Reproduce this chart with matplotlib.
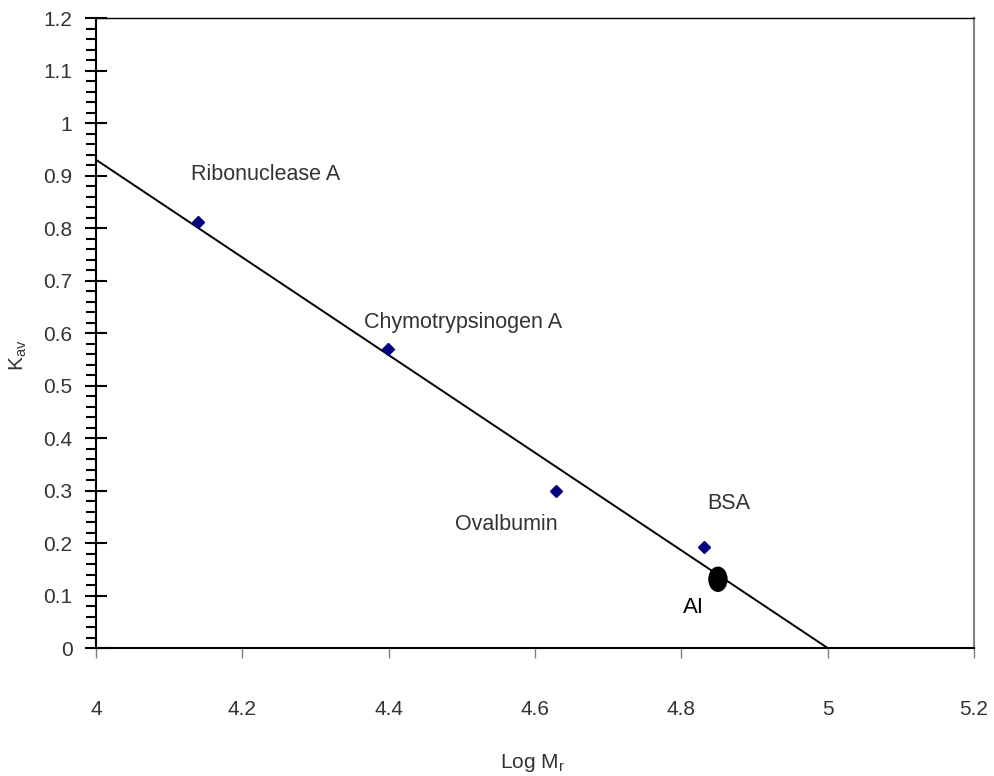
import matplotlib
matplotlib.use("Agg")
import matplotlib.pyplot as plt
from matplotlib.patches import Ellipse
from matplotlib.ticker import MultipleLocator

plt.rcParams['font.family'] = ['Liberation Sans', 'DejaVu Sans']

# Data
proteins = ["Ribonuclease A", "Chymotrypsinogen A", "Ovalbumin", "BSA"]
log_mr = [4.139, 4.399, 4.629, 4.831]
kav = [0.811, 0.570, 0.299, 0.192]
fit_x = [4.0, 5.0]
fit_y = [0.93, 0.0]
unknown_name = "AI"
unknown_x = 4.85
unknown_y = 0.131
label_pos = [(4.232, 0.901), (4.501, 0.620), (4.561, 0.235), (4.865, 0.275)]
unknown_label_pos = (4.816, 0.077)
xtick_vals = [4, 4.2, 4.4, 4.6, 4.8, 5, 5.2]
xtick_labels = ['4', '4.2', '4.4', '4.6', '4.8', '5', '5.2']
ytick_vals = [0, 0.1, 0.2, 0.3, 0.4, 0.5, 0.6, 0.7, 0.8, 0.9, 1.0, 1.1, 1.2]
ytick_labels = ['0', '0.1', '0.2', '0.3', '0.4', '0.5', '0.6', '0.7', '0.8',
                '0.9', '1', '1.1', '1.2']

fig = plt.figure(figsize=(9.94, 7.76), dpi=100)
ax = fig.add_axes([0.0966, 0.1649, 0.8833, 0.8119])

ax.plot(fit_x, fit_y, color='black', lw=1.4, zorder=2)
ax.plot(log_mr, kav, linestyle='none', marker='D', color='#000080',
        markersize=6.5, zorder=3)
ax.add_patch(Ellipse((unknown_x, unknown_y), 0.0246, 0.0457,
                     color='black', zorder=4))

for name, (tx, ty) in zip(proteins, label_pos):
    ax.text(tx, ty, name, ha='center', va='center', fontsize=15.5, color='#333333')
ax.text(unknown_label_pos[0], unknown_label_pos[1], unknown_name, ha='center',
        va='center', fontsize=16, color='black')

ax.set_xlim(4, 5.2)
ax.set_ylim(0, 1.2)
ax.set_xticks(xtick_vals)
ax.set_xticklabels(xtick_labels)
ax.set_yticks(ytick_vals)
ax.set_yticklabels(ytick_labels)
ax.yaxis.set_minor_locator(MultipleLocator(0.02))

ax.tick_params(axis='x', direction='out', length=7, width=1, color='#808080',
               pad=30.5, labelsize=15, labelcolor='#333333')
ax.tick_params(axis='y', which='major', direction='inout', length=16, width=1.5,
               color='black', pad=9, labelsize=15, labelcolor='#333333')
ax.tick_params(axis='y', which='minor', direction='out', length=7.5, width=1.5,
               color='black')

for s in ['left', 'bottom', 'top']:
    ax.spines[s].set_color('black')
ax.spines['left'].set_linewidth(1.5)
ax.spines['bottom'].set_linewidth(1.5)
ax.spines['top'].set_linewidth(1.0)
ax.spines['right'].set_color('#808080')
ax.spines['right'].set_linewidth(1.5)

fig.text(532 / 994, 1 - 763 / 776, r'Log M$_\mathregular{r}$', ha='center',
         va='center', fontsize=15, color='#333333')
fig.text(18 / 994, 1 - 355 / 776, r'K$_\mathregular{av}$', ha='center',
         va='center', fontsize=15, color='#333333', rotation=90)

fig.savefig('out.png', dpi=100, facecolor='white')
